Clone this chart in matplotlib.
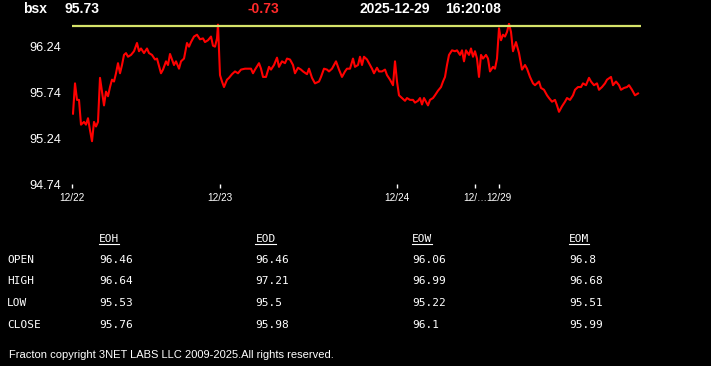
import matplotlib
matplotlib.use("Agg")
import matplotlib.pyplot as plt
from matplotlib.lines import Line2D
from matplotlib.transforms import IdentityTransform

plt.rcParams['font.family'] = ['Liberation Sans', 'DejaVu Sans']

symbol = "bsx"
last_price = 95.73
change = -0.73
stamp_date = "2025-12-29"
stamp_time = "16:20:08"
prev_close = 96.46

# intraday series (bar position, price)
bar = [1, 3, 5, 7, 9, 12, 14, 16, 18, 20, 22, 24, 26, 28, 30, 32, 34, 36, 38, 40,
       42, 44, 46, 48, 50, 52, 54, 56, 59, 62, 65, 67, 69, 72, 75, 77, 80, 83, 85, 89,
       91, 94, 96, 98, 100, 102, 104, 107, 109, 112, 115, 117, 119, 122, 125, 128, 131, 133, 136, 139,
       141, 143, 145, 146, 148, 150, 152, 155, 157, 160, 163, 166, 169, 173, 176, 179, 181, 183, 187, 189,
       191, 194, 197, 199, 202, 205, 207, 210, 213, 215, 218, 221, 223, 226, 229, 231, 235, 237, 240, 243,
       247, 249, 252, 255, 257, 260, 264, 267, 270, 273, 275, 278, 281, 283, 286, 288, 290, 292, 295, 297,
       300, 302, 305, 307, 310, 313, 315, 318, 321, 323, 325, 327, 330, 333, 335, 338, 341, 343, 346, 348,
       350, 352, 354, 356, 358, 361, 363, 366, 369, 371, 373, 375, 377, 380, 383, 385, 388, 390, 392, 394,
       397, 399, 401, 403, 405, 407, 409, 411, 414, 416, 418, 421, 423, 425, 427, 429, 431, 433, 435, 437,
       439, 441, 444, 447, 450, 453, 455, 458, 461, 463, 467, 469, 472, 475, 477, 480, 483, 485, 487, 490,
       493, 495, 498, 501, 503, 506, 509, 511, 514, 517, 519, 522, 525, 527, 530, 533, 535, 539, 541, 544,
       547, 549, 552, 555, 557, 560, 563, 566]
price = [95.51, 95.84, 95.66, 95.66, 95.39, 95.42, 95.39, 95.46, 95.33, 95.21, 95.42, 95.37, 95.42, 95.90, 95.75, 95.60, 95.75, 95.70, 95.80, 95.88,
         95.86, 95.95, 96.06, 95.95, 96.04, 96.15, 96.17, 96.13, 96.15, 96.19, 96.28, 96.19, 96.22, 96.17, 96.22, 96.17, 96.15, 96.10, 96.11, 95.95,
         95.99, 96.08, 96.04, 96.16, 96.10, 96.04, 96.08, 96.00, 96.08, 96.11, 96.28, 96.24, 96.29, 96.35, 96.37, 96.32, 96.33, 96.29, 96.31, 96.35,
         96.25, 96.24, 96.33, 96.48, 95.93, 95.86, 95.80, 95.88, 95.90, 95.94, 95.97, 95.95, 95.99, 96.00, 96.00, 96.00, 95.95, 95.99, 96.06, 96.00,
         95.91, 95.91, 96.02, 95.99, 96.04, 96.12, 96.02, 96.08, 96.06, 96.11, 96.10, 96.04, 95.95, 96.01, 95.99, 95.97, 95.94, 96.00, 95.90, 95.84,
         95.86, 95.91, 96.00, 95.99, 95.97, 96.00, 96.08, 95.99, 95.91, 95.97, 96.00, 96.00, 96.11, 96.02, 96.04, 96.13, 96.04, 96.13, 96.10, 96.06,
         96.00, 95.95, 96.01, 95.97, 95.97, 95.99, 95.93, 95.88, 95.82, 96.08, 95.86, 95.71, 95.68, 95.65, 95.68, 95.66, 95.66, 95.63, 95.65, 95.68,
         95.61, 95.68, 95.64, 95.60, 95.66, 95.68, 95.71, 95.76, 95.80, 95.86, 95.91, 96.04, 96.15, 96.20, 96.19, 96.20, 96.15, 96.20, 96.08, 96.20,
         96.15, 96.22, 96.13, 96.19, 96.11, 95.91, 96.15, 96.11, 96.15, 96.11, 95.97, 96.02, 96.00, 96.11, 96.44, 96.31, 96.37, 96.35, 96.40, 96.49,
         96.40, 96.19, 96.29, 96.17, 95.99, 96.04, 96.00, 95.91, 95.84, 95.82, 95.86, 95.79, 95.77, 95.71, 95.68, 95.64, 95.66, 95.60, 95.53, 95.59,
         95.64, 95.68, 95.66, 95.71, 95.77, 95.80, 95.80, 95.84, 95.82, 95.90, 95.86, 95.82, 95.84, 95.77, 95.80, 95.84, 95.88, 95.91, 95.82, 95.86,
         95.82, 95.77, 95.79, 95.80, 95.82, 95.77, 95.71, 95.73]

tick_bars = [0, 148, 325, 403, 427]
tick_labels = ["12/22", "12/23", "12/24", "12/\u2026", "12/29"]
y_ticks = [94.74, 95.24, 95.74, 96.24]

periods = ["EOH", "EOD", "EOW", "EOM"]
row_names = ["OPEN", "HIGH", "LOW", "CLOSE"]
open_vals = [96.46, 96.46, 96.06, 96.8]
high_vals = [96.64, 97.21, 96.99, 96.68]
low_vals = [95.53, 95.5, 95.22, 95.51]
close_vals = [95.76, 95.98, 96.1, 95.99]

W, H = 711, 366
fig = plt.figure(figsize=(W / 100, H / 100), dpi=100, facecolor='black')

ax = fig.add_axes([72 / W, (H - 184.3) / H, 569 / W, (184.3 - 22.8) / H])
ax.set_facecolor('black')
ax.plot(bar, price, color='#ff0000', lw=1.5, solid_joinstyle='round')
ax.axhline(prev_close, color='#d6e36a', lw=1.6)
ax.set_xlim(0, 569)
ax.set_ylim(94.74, 96.50)
for s in ax.spines.values():
    s.set_visible(False)
ax.set_yticks(y_ticks)
ax.set_yticklabels([f"{v:.2f}" for v in y_ticks])
ax.set_xticks(tick_bars)
ax.set_xticklabels(tick_labels)
ax.tick_params(axis='y', length=0, pad=8, labelcolor='white', labelsize=9.2)
ax.tick_params(axis='x', length=3, width=1, color='white', pad=3,
               labelcolor='white', labelsize=7.2)

# header line
hy = 1 - 9 / H
fig.text(23 / W, hy, symbol, color='white', fontsize=10, fontweight='bold', va='center')
fig.text(64.5 / W, hy, f"{last_price:.2f}", color='white', fontsize=10, fontweight='bold', va='center')
fig.text(247 / W, hy, f"{change:.2f}", color='#ff2a2a', fontsize=10, fontweight='bold', va='center')
fig.text(359 / W, hy, stamp_date, color='white', fontsize=10, fontweight='bold', va='center')
fig.text(445 / W, hy, stamp_time, color='white', fontsize=10, fontweight='bold', va='center')

# summary table
mono = 'DejaVu Sans Mono'
col_x = [99, 255.5, 412, 569]
row_y = [260, 281, 302.7, 325]
heads = []
for cx, p in zip(col_x, periods):
    heads.append(fig.text(cx / W, 1 - 238.5 / H, p, color='white', fontsize=8,
                          family=mono, va='center'))
table_rows = [open_vals, high_vals, low_vals, close_vals]
for ry, name, vals in zip(row_y, row_names, table_rows):
    fig.text(7 / W, 1 - ry / H, name, color='white', fontsize=8, family=mono, va='center')
    for cx, v in zip(col_x, vals):
        fig.text(cx / W, 1 - ry / H, str(v), color='white', fontsize=8, family=mono, va='center')

fig.text(9 / W, 1 - 355 / H, "Fracton copyright 3NET LABS LLC 2009-2025.All rights reserved.",
         color='white', fontsize=8, va='center')

fig.canvas.draw()
rend = fig.canvas.get_renderer()
for t in heads:
    bb = t.get_window_extent(rend)
    fig.add_artist(Line2D([bb.x0, bb.x1], [bb.y0 - 0.8, bb.y0 - 0.8], transform=IdentityTransform(),
                          color='white', lw=0.8))

fig.savefig('out.png', dpi=100, facecolor='black')
